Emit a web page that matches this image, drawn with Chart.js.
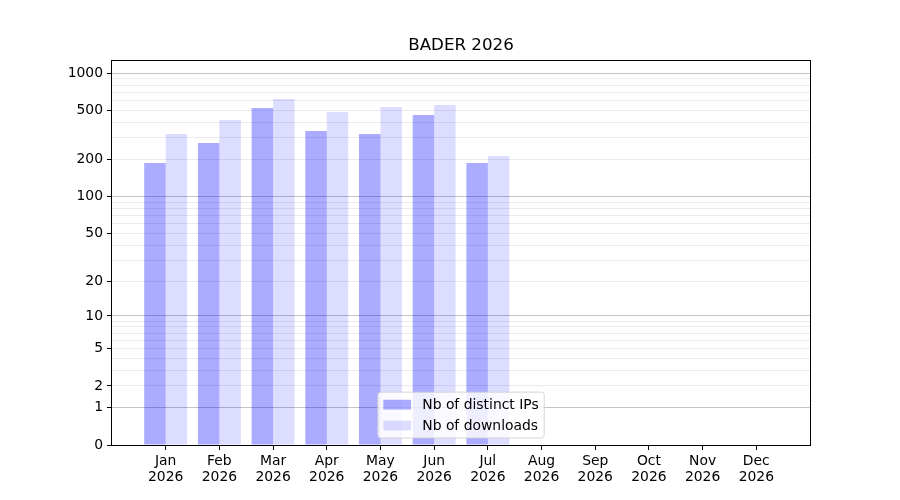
<!DOCTYPE html>
<html>
<head>
<meta charset="utf-8">
<title>BADER 2026</title>
<script src="https://cdn.jsdelivr.net/npm/chart.js@4.4.1/dist/chart.umd.min.js"></script>
<style>
  html, body { margin: 0; padding: 0; background: #fff; }
  #wrap { width: 900px; height: 500px; }
</style>
</head>
<body>
<div id="wrap"><canvas id="myChart" width="900" height="500"></canvas></div>
<script>
const months = ["Jan", "Feb", "Mar", "Apr", "May", "Jun", "Jul", "Aug", "Sep", "Oct", "Nov", "Dec"];
const year = "2026";
const distinctIps = [188, 273, 524, 341, 323, 460, 188, 0, 0, 0, 0, 0];
const downloads = [323, 419, 619, 486, 533, 554, 214, 0, 0, 0, 0, 0];
const yTicks = [0, 1, 2, 5, 10, 20, 50, 100, 200, 500, 1000];
const yDecades = [1, 10, 100, 1000];
const yMax = 1280;

// light grid lines at 2..9 of every decade
const yMinor = [];
for (const d of [1, 10, 100]) {
  for (let k = 2; k <= 9; k++) yMinor.push(k * d);
}
const yGridValues = [0].concat(yMinor, yDecades).sort((a, b) => a - b);

// y scale that maps log10(1 + v), like the reference
class Log1pScale extends Chart.LinearScale {
  static id = "log1p";
  _lims() {
    return [Math.log10(1 + this.min), Math.log10(1 + this.max)];
  }
  getPixelForValue(value) {
    if (value === null || isNaN(value)) return NaN;
    const [lo, hi] = this._lims();
    return this.getPixelForDecimal((Math.log10(1 + value) - lo) / (hi - lo));
  }
  getValueForPixel(pixel) {
    const [lo, hi] = this._lims();
    return Math.pow(10, lo + this.getDecimalForPixel(pixel) * (hi - lo)) - 1;
  }
}
Chart.register(Log1pScale);

Chart.defaults.font.family = "'DejaVu Sans', sans-serif";
Chart.defaults.font.size = 13.9;
Chart.defaults.color = "#000";

const frameAndLegend = {
  id: "frameAndLegend",
  afterLayout(chart) {
    // center the title over the plot, not the whole canvas
    if (chart.titleBlock) {
      chart.titleBlock.left = chart.chartArea.left;
      chart.titleBlock.right = chart.chartArea.right;
    }
  },
  afterDraw(chart) {
    const { ctx, chartArea } = chart;
    ctx.save();
    ctx.strokeStyle = "#000";
    ctx.lineWidth = 1;
    ctx.strokeRect(Math.round(chartArea.left) - 0.5, Math.round(chartArea.top) + 0.5,
      Math.round(chartArea.right - chartArea.left) + 1, Math.round(chartArea.bottom - chartArea.top));

    // legend box, lower center inside the plot
    const fs = 13.9;
    ctx.font = fs + "px 'DejaVu Sans', sans-serif";
    const sets = chart.data.datasets;
    const textW = Math.max(...sets.map((d) => ctx.measureText(d.label).width));
    const pad = 0.4 * fs, handle = 2.0 * fs, gap = 0.8 * fs, rowH = fs, spacing = 0.5 * fs;
    const w = pad * 2 + handle + gap + textW;
    const h = pad * 2 + rowH * sets.length + spacing * (sets.length - 1);
    const x0 = (chartArea.left + chartArea.right) / 2 - w / 2;
    const y0 = chartArea.bottom - 7 - h;
    ctx.beginPath();
    ctx.roundRect(x0, y0, w, h, 3);
    ctx.fillStyle = "rgba(255,255,255,0.8)";
    ctx.fill();
    ctx.strokeStyle = "rgba(204,204,204,0.8)";
    ctx.stroke();
    sets.forEach((d, i) => {
      const cy = y0 + pad + rowH / 2 + i * (rowH + spacing);
      ctx.fillStyle = d.backgroundColor;
      ctx.fillRect(x0 + pad, cy - 0.35 * fs, handle, 0.7 * fs);
      ctx.fillStyle = "#000";
      ctx.textBaseline = "middle";
      ctx.textAlign = "left";
      ctx.fillText(d.label, x0 + pad + handle + gap, cy + 1);
    });
    ctx.restore();
  },
};

const config = {
  type: "bar",
  data: {
    datasets: [
      {
        label: "Nb of distinct IPs",
        backgroundColor: "rgba(0, 0, 255, 0.33)",
        data: months.map((m, i) => ({ x: i, y: distinctIps[i] })),
      },
      {
        label: "Nb of downloads",
        backgroundColor: "rgba(0, 0, 255, 0.135)",
        data: months.map((m, i) => ({ x: i, y: downloads[i] })),
      },
    ],
  },
  options: {
    responsive: false,
    animation: false,
    layout: { padding: { top: 36, right: 90, bottom: 0, left: 0 } },
    datasets: { bar: { categoryPercentage: 0.8, barPercentage: 1.0, borderWidth: 0 } },
    plugins: {
      legend: { display: false },
      tooltip: { enabled: false },
      title: {
        display: true,
        text: "BADER " + year,
        color: "#000",
        font: { size: 16.7, weight: "normal" },
        padding: { top: 0, bottom: 4 },
      },
    },
    scales: {
      x: {
        type: "linear",
        min: -1,
        max: 12,
        offset: false,
        afterFit: (scale) => { scale.height = 55; },
        afterBuildTicks: (scale) => { scale.ticks = months.map((m, i) => ({ value: i })); },
        ticks: {
          autoSkip: false,
          maxRotation: 0,
          padding: 3,
          font: { lineHeight: 1.15 },
          callback: (v) => [months[v], year],
        },
        grid: { offset: false, drawOnChartArea: false, drawTicks: true, tickLength: 5, tickColor: "#000", tickWidth: 1 },
        border: { display: false },
      },
      y: {
        type: "log1p",
        min: 0,
        max: yMax,
        bounds: "data",
        afterFit: (scale) => { scale.width = 112; },
        afterBuildTicks: (scale) => { scale.ticks = yGridValues.map((v) => ({ value: v })); },
        ticks: {
          autoSkip: false,
          padding: 4,
          callback: (v) => (yTicks.includes(v) ? String(v) : ""),
        },
        grid: {
          tickLength: 5,
          tickWidth: 1,
          lineWidth: 1,
          color: (c) => {
            const v = c.tick ? c.tick.value : null;
            if (v === 0) return "rgba(0,0,0,0)";
            return yDecades.includes(v) ? "#c4c4c4" : "#ebebeb";
          },
          tickColor: (c) => (c.tick && yTicks.includes(c.tick.value) ? "#000" : "rgba(0,0,0,0)"),
        },
        border: { display: false },
      },
    },
  },
  plugins: [frameAndLegend],
};

var myChart = new Chart(document.getElementById("myChart"), config);
</script>
</body>
</html>
